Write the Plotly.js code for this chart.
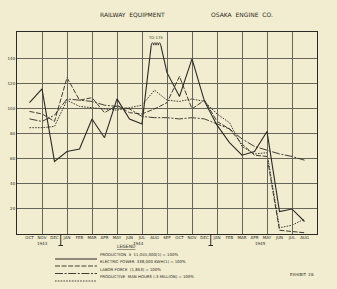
<!DOCTYPE html>
<html>
<head>
<meta charset="utf-8">
<script src="https://cdn.plot.ly/plotly-3.0.1.min.js"></script>
<style>html,body{margin:0;padding:0;background:#f2edd0;}#chart{width:337px;height:289px;}</style>
</head>
<body>
<div id="chart"></div>
<script>
// ---- data (index 0 = OCT 1943 ... 22 = AUG 1945) ----
const months = ['OCT','NOV','DEC','JAN','FEB','MAR','APR','MAY','JUN','JUL','AUG','SEP',
                'OCT','NOV','DEC','JAN','FEB','MAR','APR','MAY','JUN','JUL','AUG'];
const yearLabels = ['1943','1944','1945'];
const yearLabelPos = [1, 8.7, 18.45];
const yearBreaks = [2.5, 14.5];
const production = [105,116,58,66,68,92,77,108,92,88,173,129,110,140,106,87,73,63,66,82,18,20,10];
const electricPower = [98,96,90,125,107,109,97,103,97,96,100,105,126,100,107,90,84,72,63,62,3,2,1];
const laborForce = [92,90,95,108,107,106,103,102,100,94,93,93,92,93,92,88,84,76,70,67,64,62,59];
const manHours = [85,85,86,107,102,101,100,99,101,103,115,107,106,108,106,96,89,70,64,65,5,7,12];
const yTicks = [20,40,60,80,100,120,140];
const seriesNames = ['PRODUCTION','ELECTRIC POWER','LABOR FORCE','PRODUCTIVE MAN HOURS'];
const legendTexts = [
  'PRODUCTION  ¥  11,045,000(1) = 100%',
  'ELECTRIC POWER  338,000 KWH(1) = 100%',
  'LABOR FORCE  (1,863) = 100%',
  'PRODUCTIVE  MAN HOURS (.3 MILLION) = 100%'
];
const offScaleLabel = 'TO 173';

// ---- styling / geometry ----
const W = 337, H = 289, L = 17, R = 317, T = 32, B = 234;
const bg = '#f2edd0', ink = '#2b2a25', grid = '#66655a';
const font = 'DejaVu Sans, sans-serif';
const yMax = 161.5, clipTop = 151;
const dashes = ['solid', '5px,1.6px', '8px,1.6px,2px,1.6px', '1.6px,1.2px'];
const widths = [1.1, 0.9, 0.9, 0.9];
const px = x => (x - L) / (R - L);
const py = y => (B - y) / (B - T);

const xIdx = months.map((m, i) => i);
const all = [production, electricPower, laborForce, manHours];

const traces = all.map((vals, k) => ({
  type: 'scatter', mode: 'lines', name: seriesNames[k],
  x: xIdx, y: vals,
  yaxis: k === 0 ? 'y2' : 'y',
  line: {color: ink, width: widths[k], dash: dashes[k]},
  showlegend: false, hoverinfo: 'skip'
}));

// grid positions every 2 months starting one month before first
const gridX = [];
for (let g = -1; g <= months.length; g += 2) gridX.push(g);

const shapes = [];
// year break ticks below axis
yearBreaks.forEach(b => {
  shapes.push({type:'line', xref:'x', yref:'paper', x0:b, x1:b, y0:0, y1:py(245.5), line:{color:ink, width:1}});
  shapes.push({type:'line', xref:'x', yref:'paper', x0:b-0.18, x1:b+0.18, y0:py(245.5), y1:py(245.5), line:{color:ink, width:1}});
});
// break squiggle on the off-scale peak
(function(){
  let xa = null, xb = null;
  for (let i = 0; i < production.length - 1; i++) {
    const a = production[i], b = production[i+1];
    if (a < clipTop && b >= clipTop) xa = i + (clipTop - a) / (b - a);
    if (a >= clipTop && b < clipTop) xb = i + (a - clipTop) / (a - b);
  }
  if (xa !== null && xb !== null) {
    const n = 4, step = (xb - xa) / n;
    let d = `M ${xa},${clipTop}`;
    for (let j = 0; j < n; j++) {
      const x0 = xa + j * step;
      d += ` Q ${x0 + step/2},${clipTop + 4} ${x0 + step},${clipTop}`;
    }
    shapes.push({type:'path', xref:'x', yref:'y', path:d, line:{color:ink, width:0.9}});
  }
})();
// legend line samples
const legendY = [259, 266, 273.5, 281];
legendY.forEach((y, k) => {
  shapes.push({type:'line', xref:'paper', yref:'paper', x0:px(55), x1:px(97), y0:py(y), y1:py(y),
    line:{color:ink, width:widths[k], dash:dashes[k]}});
});

const annotations = [
  {text:'RAILWAY  EQUIPMENT', x:px(132), y:py(9.5), xref:'paper', yref:'paper', showarrow:false,
   font:{family:font, size:6, color:ink}},
  {text:'OSAKA  ENGINE  CO.', x:px(275), y:py(9.5), xref:'paper', yref:'paper', showarrow:false,
   font:{family:font, size:6, color:ink}},
  {text:offScaleLabel, x:10.05, y:157, xref:'x', yref:'y', showarrow:false,
   font:{family:font, size:3.8, color:ink}},
  {text:'<u>LEGEND</u>', x:px(126), y:py(251), xref:'paper', yref:'paper', showarrow:false,
   font:{family:font, size:4.5, color:ink}},
  {text:'EXHIBIT  28', x:px(316), y:py(279), xref:'paper', yref:'paper', showarrow:false,
   font:{family:font, size:4, color:ink}}
];
yearLabels.forEach((t, i) => annotations.push({text:t, x:yearLabelPos[i], y:py(246.5), xref:'x', yref:'paper',
  showarrow:false, borderpad:0, font:{family:font, size:4, color:ink}}));
legendTexts.forEach((t, k) => annotations.push({text:t, x:px(98), y:py(legendY[k]), xref:'paper', yref:'paper',
  xanchor:'left', showarrow:false, font:{family:font, size:3.9, color:ink}}));

const layout = {
  width: W, height: H,
  margin: {l: L, r: W - R, t: T, b: H - B, pad: 0},
  paper_bgcolor: bg, plot_bgcolor: 'rgba(0,0,0,0)',
  showlegend: false,
  font: {family: font, size: 4, color: ink},
  xaxis: {
    range: [-1, months.length], anchor: 'y',
    tickmode: 'array', tickvals: xIdx, ticktext: months,
    showgrid: false, zeroline: false, ticks: '', ticklen: 0, ticklabelstandoff: -1,
    tickfont: {family: font, size: 4, color: ink},
    showline: true, mirror: true, linecolor: ink, linewidth: 1,
    minor: {tickmode: 'array', tickvals: gridX, showgrid: true, gridcolor: grid, gridwidth: 1, ticks: ''}
  },
  yaxis: {
    range: [0, yMax], domain: [0, 1], anchor: 'x',
    tickmode: 'array', tickvals: yTicks, ticktext: yTicks.map(String),
    showgrid: true, gridcolor: grid, gridwidth: 1, zeroline: false, ticks: '',
    tickfont: {family: font, size: 4, color: ink},
    showline: true, mirror: true, linecolor: ink, linewidth: 1
  },
  yaxis2: {
    range: [0, clipTop], domain: [0, clipTop / yMax], anchor: 'x',
    visible: false, showgrid: false, zeroline: false
  },
  shapes: shapes,
  annotations: annotations
};

Plotly.newPlot('chart', traces, layout, {staticPlot: true, displayModeBar: false});
</script>
</body>
</html>
